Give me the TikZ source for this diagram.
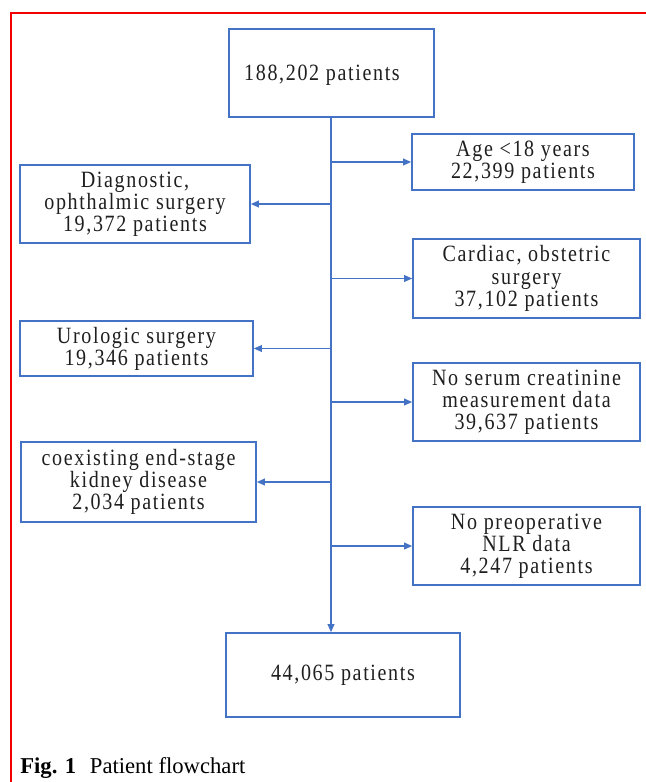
\documentclass[tikz,border=0pt]{standalone}
\usepackage{fontspec}
\setmainfont{Liberation Serif}
\newfontfamily\boxfont{Liberation Serif}[FakeStretch=0.86, LetterSpace=7]
\usetikzlibrary{arrows.meta}
\definecolor{boxblue}{HTML}{4472C4}
\definecolor{framered}{HTML}{F00000}
\tikzset{
  fbox/.style={draw=boxblue, line width=1.2pt, inner sep=0pt, align=center,
    font=\boxfont\fontsize{17.5pt}{16.6pt}\selectfont, text=black!88},
  arr/.style={draw=boxblue, line width=1.1pt, -{Triangle[length=6pt,width=5pt]}}
}
\begin{document}
\begin{tikzpicture}[x=0.75pt,y=-0.75pt]
\useasboundingbox (0,0) rectangle (646,782);
\fill[white] (0,0) rectangle (646,782);
% red frame (top and left)
\draw[framered, line width=1.6pt] (11,782) -- (11,13) -- (646,13);

\node[fbox, minimum width=205*0.75pt, minimum height=88*0.75pt] (top) at (331.5,73) {};
\node[font=\boxfont\fontsize{17.5pt}{16.6pt}\selectfont, text=black!88, inner sep=0pt] (toptxt) at (322,75) {188,202 patients};

\node[fbox, minimum width=222*0.75pt, minimum height=56*0.75pt] (age) at (523,162) {Age <18 years\\22,399 patients};
\node[fbox, minimum width=230*0.75pt, minimum height=78*0.75pt] (diag) at (135,204) {Diagnostic,\\ophthalmic surgery\\19,372 patients};
\node[fbox, minimum width=227*0.75pt, minimum height=79*0.75pt] (card) at (526.5,278.5) {Cardiac, obstetric\\surgery\\37,102 patients};
\node[fbox, minimum width=233*0.75pt, minimum height=55*0.75pt] (uro) at (136.5,348.5) {Urologic surgery\\19,346 patients};
\node[fbox, minimum width=227*0.75pt, minimum height=78*0.75pt] (serum) at (526.5,402) {No serum creatinine\\measurement data\\39,637 patients};
\node[fbox, minimum width=235*0.75pt, minimum height=80*0.75pt] (ckd) at (138.5,482) {coexisting end-stage\\kidney disease\\2,034 patients};
\node[fbox, minimum width=227*0.75pt, minimum height=78*0.75pt] (nlr) at (526.5,546) {No preoperative\\NLR data\\4,247 patients};
\node[fbox, minimum width=234*0.75pt, minimum height=84*0.75pt] (bot) at (343,675) {44,065 patients};

\coordinate (tr) at (331,0);
\draw[arr] (top.south -| tr) -- (bot.north -| tr);
\foreach \b in {age,diag,card,uro,serum,ckd,nlr}{
  \path (\b.center -| tr) coordinate (s\b);
}
\draw[arr] (sage) -- (age.west);
\draw[arr] (scard) -- (card.west);
\draw[arr] (sserum) -- (serum.west);
\draw[arr] (snlr) -- (nlr.west);
\draw[arr] (sdiag) -- (diag.east);
\draw[arr] (suro) -- (uro.east);
\draw[arr] (sckd) -- (ckd.east);

\node[anchor=base west, inner sep=0pt, font=\fontsize{17pt}{19pt}\selectfont] (cap) at (20,773) {\textbf{Fig. 1}\hspace{0.6em}Patient flowchart};
\end{tikzpicture}
\end{document}
